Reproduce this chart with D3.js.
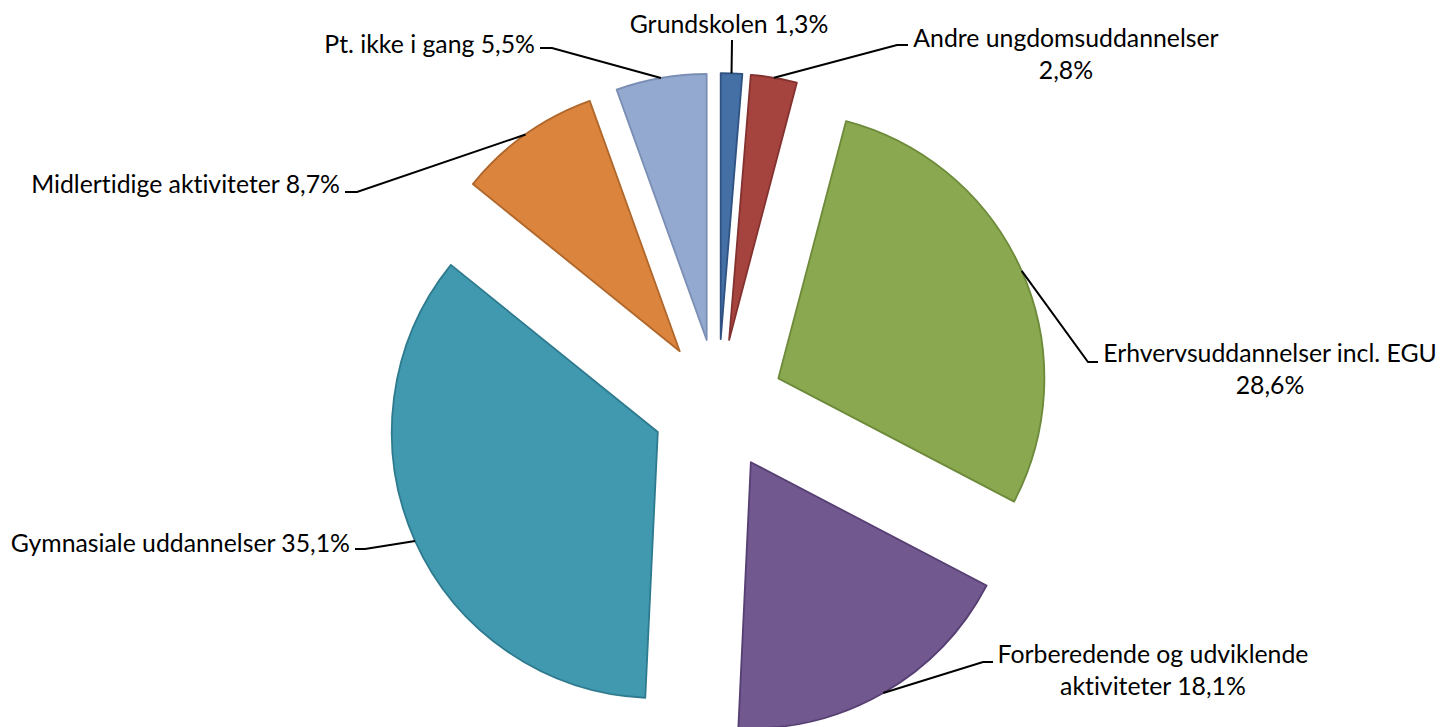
<!DOCTYPE html>
<html>
<head>
<meta charset="utf-8">
<script src="https://cdn.jsdelivr.net/npm/d3@7"></script>
<style>
  body { margin: 0; background: #fff; }
  text { font-family: Lato, "Noto Sans", sans-serif; font-size: 24.8px; fill: #000;
         font-variant-ligatures: none; font-feature-settings: "liga" 0; }
</style>
</head>
<body>
<svg id="chart" width="1440" height="727"></svg>
<script>
'use strict';

// data
var categories = [
    "Grundskolen",
    "Andre ungdomsuddannelser",
    "Erhvervsuddannelser incl. EGU",
    "Forberedende og udviklende aktiviteter",
    "Gymnasiale uddannelser",
    "Midlertidige aktiviteter",
    "Pt. ikke i gang"
];
var shares = [1.3, 2.8, 28.6, 18.1, 35.1, 8.7, 5.5];

// styling / layout
var fills   = ["#4470a6", "#a5443f", "#8aa84f", "#71588f", "#4199b0", "#db843d", "#94a9cf"];
var strokes = ["#2f5282", "#833230", "#6d8a3a", "#563f73", "#2e7a8e", "#b0672b", "#7b8fb5"];
// label anchor, text-anchor, max chars per line, leader elbow + end
var labelLayout = [
    {x: 729,  y: 33,  anchor: "middle", wrap: 30, elbow: null,       end: [732, 40]},
    {x: 1066, y: 47,  anchor: "middle", wrap: 24, elbow: [897, 45],  end: [908, 45]},
    {x: 1270, y: 362, anchor: "middle", wrap: 29, elbow: [1088, 362], end: [1098, 362]},
    {x: 1153, y: 663, anchor: "middle", wrap: 26, elbow: [983, 662], end: [993, 662]},
    {x: 350,  y: 552, anchor: "end",    wrap: 40, elbow: [365, 549], end: [355, 549]},
    {x: 340,  y: 193, anchor: "end",    wrap: 40, elbow: [357, 192], end: [345, 192]},
    {x: 535,  y: 53,  anchor: "end",    wrap: 40, elbow: [552, 48],  end: [540, 48]}
];
var lineHeight = 32;

var cx = 718, cy = 405;
var radius = 266, explode = 66;

var svg = d3.select("#chart");
var locale = d3.formatLocale({decimal: ",", thousands: ".", grouping: [3], currency: ["", " kr"]});
var fmt = locale.format(".1f");

var pie = d3.pie().sort(null).value(function(d) { return d.value; });
var arc = d3.arc().innerRadius(0).outerRadius(radius);
var rim = d3.arc().innerRadius(radius + explode).outerRadius(radius + explode);

var rows = categories.map(function(c, i) {
    return {name: c, value: shares[i], idx: i};
});
var arcs = pie(rows);

function offset(d) {
    var a = (d.startAngle + d.endAngle) / 2;
    return [Math.sin(a) * explode, -Math.cos(a) * explode];
}

var g = svg.append("g").attr("transform", "translate(" + cx + "," + cy + ")");

g.selectAll("path.slice")
    .data(arcs)
    .enter()
    .append("path")
    .attr("class", "slice")
    .attr("transform", function(d) { var o = offset(d); return "translate(" + o[0] + "," + o[1] + ")"; })
    .attr("d", arc)
    .attr("fill", function(d) { return fills[d.index]; })
    .attr("stroke", function(d) { return strokes[d.index]; })
    .attr("stroke-width", 1.8)
    .attr("stroke-linejoin", "round");

function wrapWords(str, max) {
    var words = str.split(" ");
    var lines = [];
    var cur = "";
    words.forEach(function(w) {
        var next = cur ? cur + " " + w : w;
        if (next.length > max && cur) {
            lines.push(cur);
            cur = w;
        } else {
            cur = next;
        }
    });
    if (cur) lines.push(cur);
    return lines;
}

var labels = svg.append("g").attr("class", "labels");

arcs.forEach(function(d) {
    var lay = labelLayout[d.index];
    var p = rim.centroid(d);
    var start = [cx + p[0], cy + p[1]];
    var pts = [start];
    if (lay.elbow) pts.push(lay.elbow);
    pts.push(lay.end);

    labels.append("path")
        .attr("d", d3.line()(pts))
        .attr("fill", "none")
        .attr("stroke", "#000")
        .attr("stroke-width", 2);

    var txt = d.data.name + " " + fmt(d.data.value) + "%";
    var lines = wrapWords(txt, lay.wrap);
    var t = labels.append("text")
        .attr("text-anchor", lay.anchor)
        .attr("x", lay.x)
        .attr("y", lay.y);
    lines.forEach(function(l, k) {
        t.append("tspan")
            .attr("x", lay.x)
            .attr("dy", k === 0 ? 0 : lineHeight)
            .text(l);
    });
});
</script>
</body>
</html>
